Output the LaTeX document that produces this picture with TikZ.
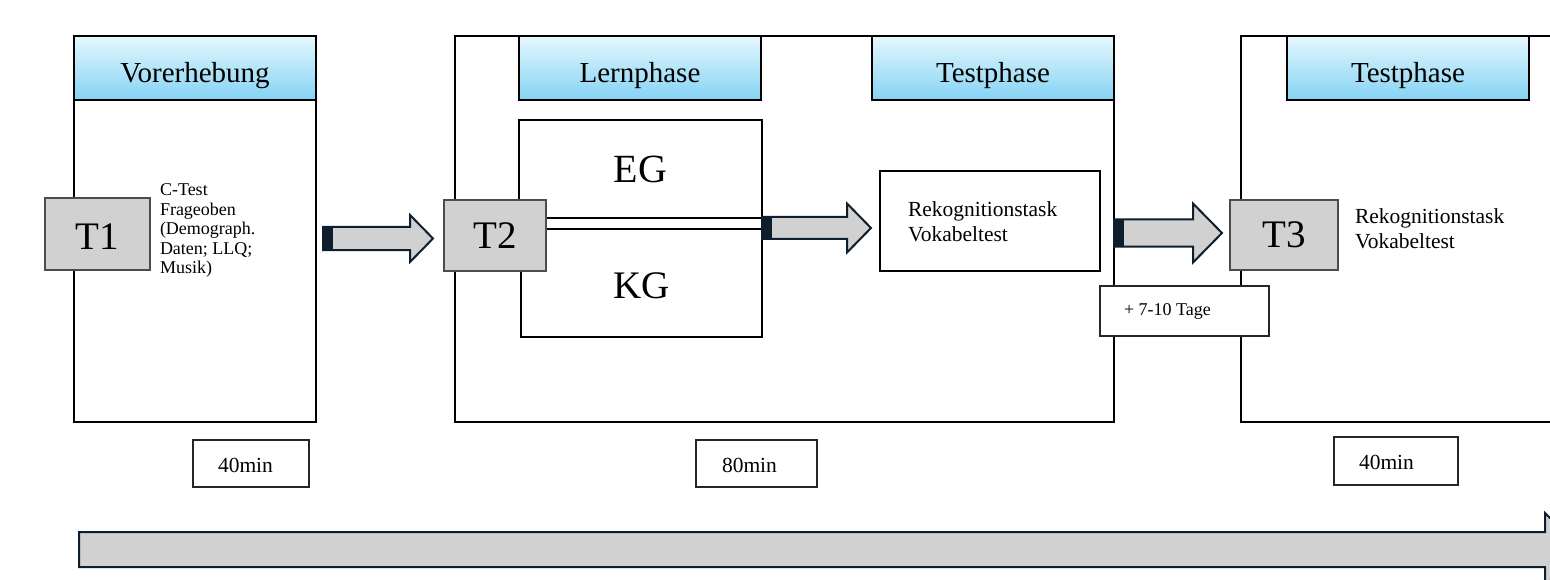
\documentclass[tikz,border=0pt]{standalone}
\usepackage{fontspec}
\setmainfont{Liberation Serif}
\usetikzlibrary{calc}
\definecolor{hdtop}{HTML}{E6F7FD}
\definecolor{hdbot}{HTML}{84D3F4}
\definecolor{tgray}{HTML}{D1D1D1}
\definecolor{navy}{HTML}{0E1E2C}
\newcommand\barrow[5]{%
  \filldraw[blockarrow] let \p1=(#1), \p2=(#2) in
    (\x1,\y1+#3) -- (\x2-#5,\y1+#3) -- (\x2-#5,\y1+#4) -- (\x2,\y1) --
    (\x2-#5,\y1-#4) -- (\x2-#5,\y1-#3) -- (\x1,\y1-#3) -- cycle;
  \fill[navy] let \p1=(#1) in (\x1,\y1-#3) rectangle (\x1+10pt,\y1+#3);}
\begin{document}
\begin{tikzpicture}[x=1pt,y=-1pt,
  frame/.style={draw=black,line width=2.4pt,inner sep=0,outer sep=0,anchor=north west},
  header/.style={draw=black,line width=2.4pt,top color=hdtop,bottom color=hdbot,inner sep=0,outer sep=0,anchor=north west,font=\fontsize{29}{32}\selectfont,text height=29pt,text depth=0pt},
  tbox/.style={draw=black!70,line width=1.3pt,fill=tgray,inner sep=0,outer sep=0,anchor=north west,font=\fontsize{39}{44}\selectfont},
  plainbox/.style={draw=black,line width=2pt,fill=white,inner sep=0,outer sep=0,anchor=north west},
  timebox/.style={draw=black!85,line width=1.4pt,fill=white,inner sep=0,outer sep=0,anchor=north west},
  txt/.style={inner sep=0,outer sep=0,align=left},
  blockarrow/.style={fill=tgray,draw=navy,line width=2pt,line join=miter},
]
\useasboundingbox (0,0) rectangle (1550,580);
\fill[white] (0,0) rectangle (1550,580);
\begin{scope}
\clip (0,0) rectangle (1550,580);
% frames
\node[frame,minimum width=242,minimum height=386] (f1) at (74,36) {};
\node[frame,minimum width=659,minimum height=386] (f2) at (455,36) {};
\node[frame,minimum width=400,minimum height=386] (f3) at (1241,36) {};
% headers
\node[header,minimum width=242,minimum height=64] (h1) at (74,36) {Vorerhebung};
\node[header,minimum width=242,minimum height=64] (h2) at (519,36) {Lernphase};
\node[header,minimum width=242,minimum height=64] (h3) at (872,36) {Testphase};
\node[header,minimum width=242,minimum height=64] (h4) at (1287,36) {Testphase};
% groups
\node[plainbox,minimum width=243,minimum height=98,font=\fontsize{40}{44}\selectfont] (eg) at (519,120) {EG};
\node[plainbox,minimum width=241,minimum height=108,font=\fontsize{39}{44}\selectfont,text height=31pt,text depth=0pt] (kg) at (521,229) {KG};
\node[plainbox,minimum width=220,minimum height=100] (reko) at (880,171) {};
\node[txt,anchor=north west,font=\fontsize{21.5}{24.5}\selectfont] (rekot) at (908,202) {Rekognitionstask\\Vokabeltest};
\node[timebox,minimum width=169,minimum height=50] (tage) at (1100,286) {};
\node[txt,anchor=west,font=\fontsize{18}{20}\selectfont] (taget) at (1124,311) {+ 7-10 Tage};
% T boxes
\node[tbox,minimum width=105,minimum height=72,text height=31pt,text depth=0pt] (t1) at (45,198) {T1};
\node[tbox,minimum width=102,minimum height=71] (t2) at (444,200) {T2};
\node[tbox,minimum width=108,minimum height=70] (t3) at (1230,200) {T3};
% texts
\node[txt,anchor=north west,font=\fontsize{18}{19.5}\selectfont] (d1) at (160,184) {C-Test\\Frageoben\\(Demograph.\\Daten; LLQ;\\Musik)};
\node[txt,anchor=north west,font=\fontsize{21.5}{24.5}\selectfont] (d3) at (1355,209) {Rekognitionstask\\Vokabeltest};
% time boxes
\node[timebox,minimum width=116,minimum height=47] (m1) at (193,440) {};
\node[txt,anchor=west,font=\fontsize{21.5}{24}\selectfont] (m1t) at (218,465) {40min};
\node[timebox,minimum width=121,minimum height=47] (m2) at (696,440) {};
\node[txt,anchor=west,font=\fontsize{21.5}{24}\selectfont] (m2t) at (722,465) {80min};
\node[timebox,minimum width=124,minimum height=48] (m3) at (1334,437) {};
\node[txt,anchor=west,font=\fontsize{21.5}{24}\selectfont] (m3t) at (1359,462) {40min};
% block arrows
\coordinate (a1s) at (323,238.5);
\coordinate (a1e) at (433,238.5);
\coordinate (a2s) at (762,228);
\coordinate (a2e) at (871,228);
\coordinate (a3s) at (1114,233);
\coordinate (a3e) at (1222,233);
\barrow{a1s}{a1e}{11.5pt}{23.5pt}{23pt}
\barrow{a2s}{a2e}{11pt}{24.5pt}{24pt}
\barrow{a3s}{a3e}{13.5pt}{29.5pt}{29pt}
% timeline arrow
\coordinate (ts) at (79,549.5);
\coordinate (te) at (1582,549.5);
\filldraw[blockarrow] let \p1=(ts), \p2=(te) in
  (\x1,\y1+17.5pt) -- (\x2-37pt,\y1+17.5pt) -- (\x2-37pt,\y1+36.5pt) -- (\x2,\y1) --
  (\x2-37pt,\y1-36.5pt) -- (\x2-37pt,\y1-17.5pt) -- (\x1,\y1-17.5pt) -- cycle;
\end{scope}
\end{tikzpicture}
\end{document}
